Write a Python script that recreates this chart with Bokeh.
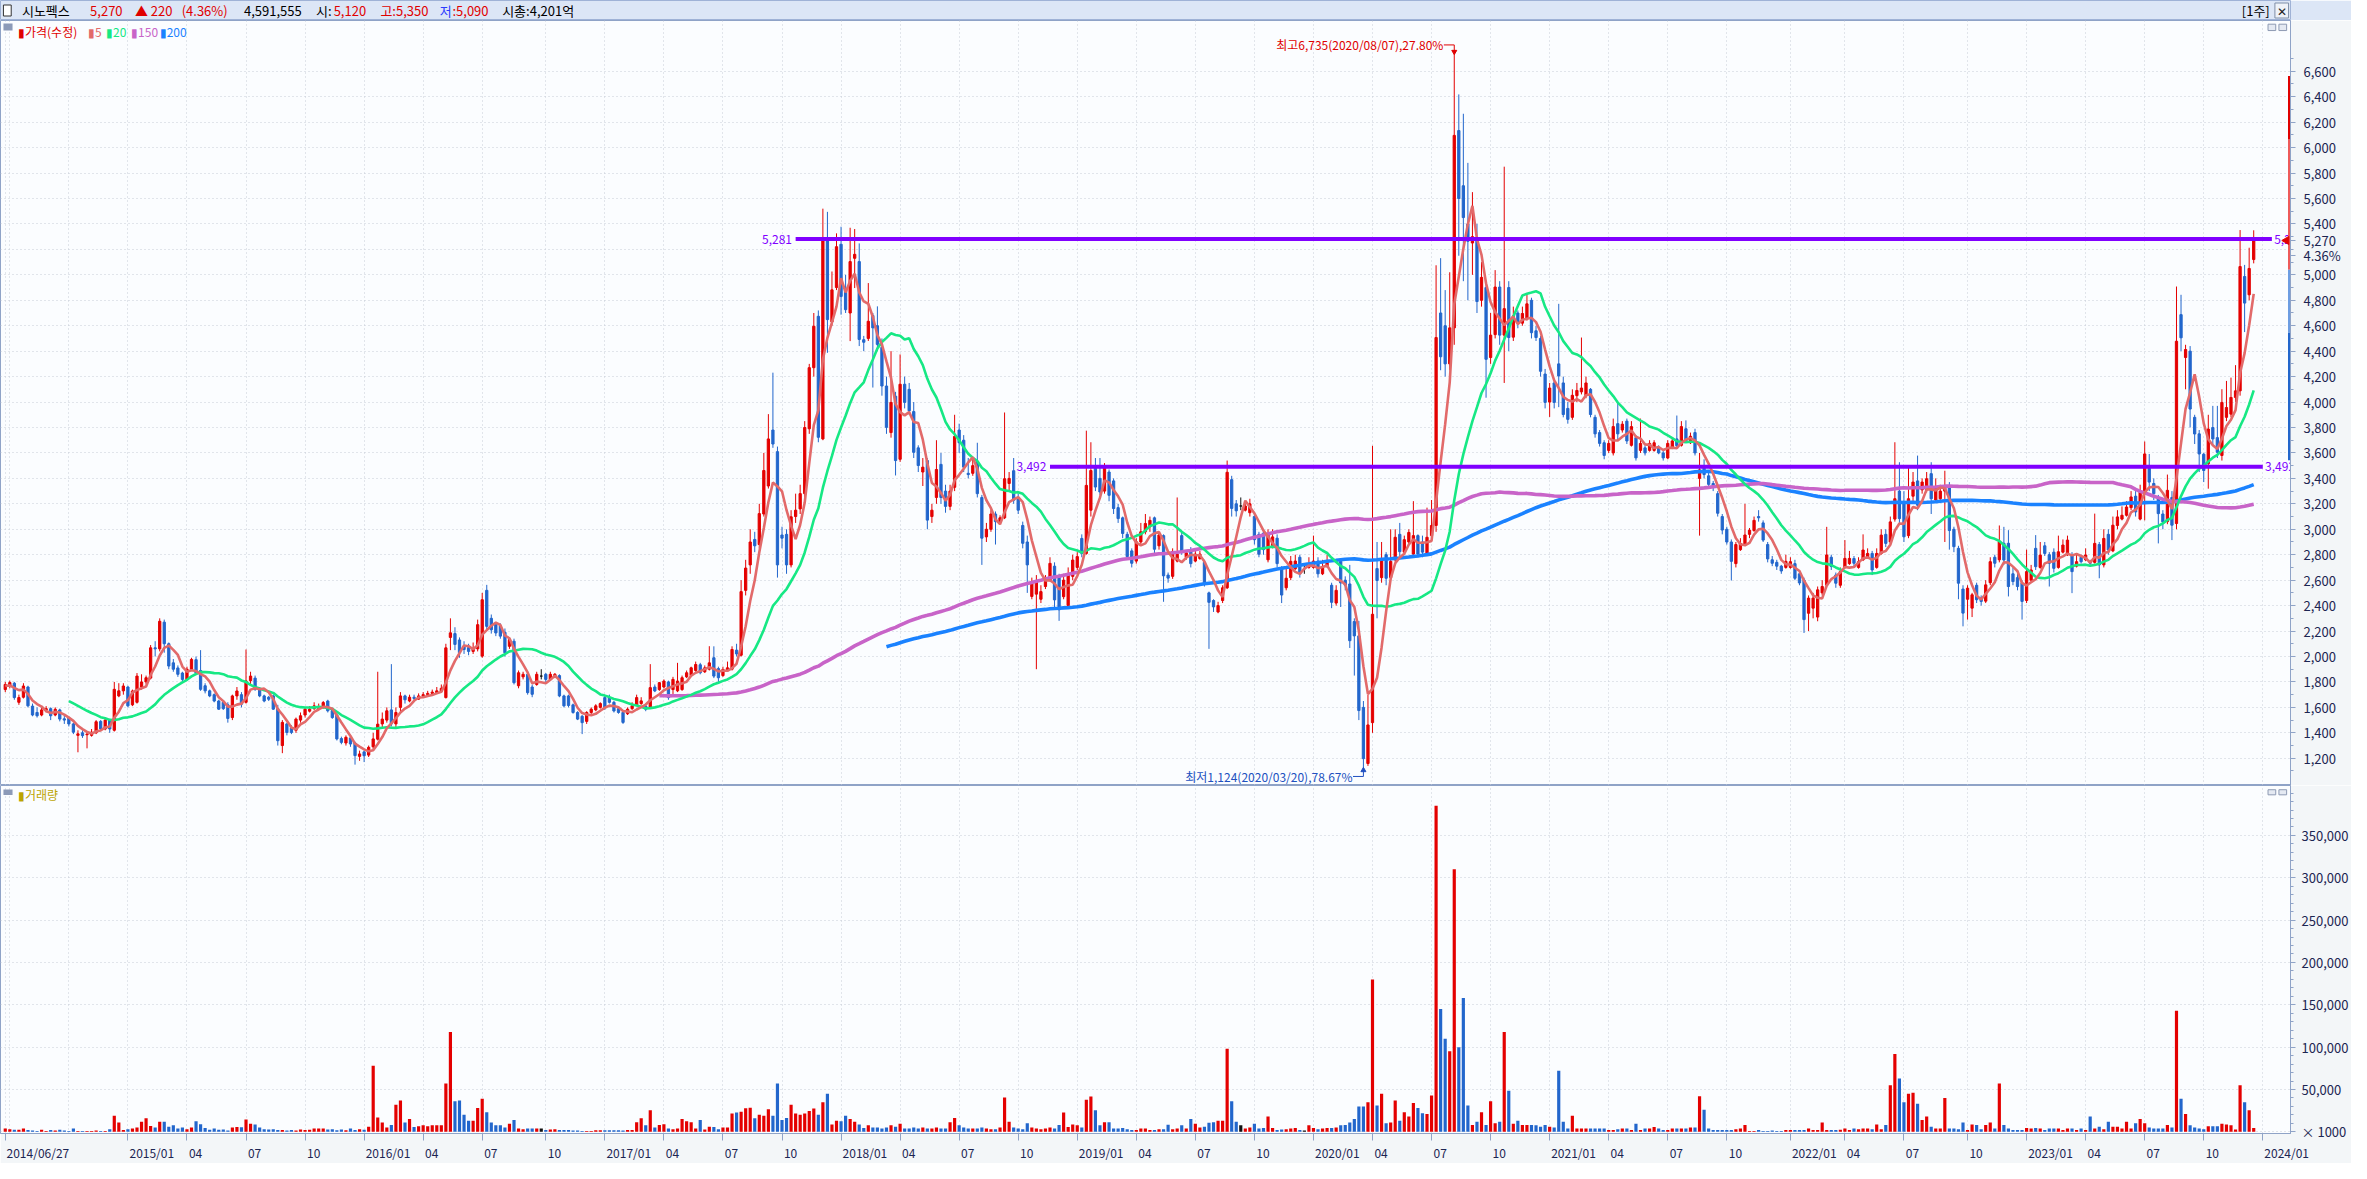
import numpy as np
import pandas as pd
from bokeh.plotting import figure
from bokeh.models import (Range1d, FixedTicker, NumeralTickFormatter, Grid, ColumnDataSource,
                          CustomJSTickFormatter)
from bokeh.layouts import column
from bokeh.embed import file_html
from bokeh.resources import INLINE
from bokeh.core.properties import value

FONT = "Noto Sans CJK KR"
START_DATE = "2014-06-27"          # first weekly candle shown
PRE_CLOSE = [1790, 1770, 1780, 1760, 1750]   # hidden weeks before the first one (moving averages only)

OPEN = [
1740,1770,1790,1640,1680,1760,1610,1560,1540,1580, 1590,1540,1580,1510,1520,1470,1380,1400,1385,1380,
1400,1490,1430,1500,1420,1690,1730,1760,1620,1640, 1760,1800,1830,2068,2060,2270,2100,1950,1910,1870,
1820,1900,1975,1890,1770,1730,1700,1650,1640,1620, 1520,1690,1700,1640,1810,1830,1740,1690,1680,1690,
1590,1300,1470,1440,1420,1500,1540,1570,1590,1590, 1600,1650,1575,1540,1355,1320,1360,1320,1215,1250,
1225,1290,1350,1470,1500,1580,1470,1600,1690,1650, 1680,1665,1690,1700,1710,1715,1725,1677,2150,2180,
2130,2080,2070,2040,2060,2003,2520,2300,2250,2240, 2190,2080,2120,1770,1840,1860,1760,1780,1846,1860,
1820,1840,1850,1690,1690,1620,1560,1530,1490,1560, 1580,1600,1677,1677,1640,1590,1560,1550,1590,1615,
1630,1610,1600,1760,1740,1760,1800,1740,1730,1740, 1840,1850,1890,1935,1880,1900,1990,1905,1850,1890,
1900,2050,2010,2520,2720,2920,2880,3120,3340,3780, 3610,2955,2960,2720,3100,3160,3280,3790,4270,4674,
3710,5286,4630,4900,5240,4890,4700,5130,5104,4490, 4500,4680,4600,4430,4126,3760,4046,3550,4140,4100,
3925,3640,3450,3540,3100,3250,3510,3300,3180,3330, 3780,3700,3440,3440,3530,3250,2940,3000,3120,3060,
3090,3360,3460,3250,3030,2900,2472,2490,2450,2550, 2600,2710,2630,2470,2400,2630,2700,2928,2810,3150,
3480,3400,3300,3450,3380,3170,3090,2960,2830,2750, 2900,2980,3020,3090,2870,2950,2640,2630,2750,2950,
2780,2840,2750,2770,2740,2500,2440,2350,2440,2540, 3390,3200,3183,3150,3130,3100,2960,2970,2760,2870,
2930,2700,2540,2620,2690,2780,2690,2700,2700,2750, 2650,2710,2560,2420,2748,2600,2570,2275,2162,1600,
1159,1480,2691,2620,2800,2620,2760,2960,2820,2900, 2805,2950,2900,2810,2950,3030,4700,4600,4300,4583,
6134,5700,5400,5250,5280,4800,4900,4350,4530,4904, 4526,4900,4510,4700,4620,4660,4800,4560,4500,4220,
4000,4150,4300,4150,3950,3880,4050,4080,4050,4100, 3880,3760,3680,3620,3600,3830,3780,3850,3660,3720,
3620,3640,3620,3620,3640,3600,3560,3640,3710,3660, 3790,3680,3760,3400,3500,3420,3360,3280,3100,3000,
2900,2730,2840,2880,2960,2990,3100,3050,2880,2760, 2740,2710,2700,2700,2730,2650,2600,2340,2380,2310,
2500,2560,2780,2640,2560,2700,2730,2770,2700,2760, 2780,2810,2700,2810,2960,2900,3080,3300,3200,2950,
3260,3380,3310,3310,3437,3230,3240,3300,3340,3000, 2850,2530,2450,2380,2560,2460,2435,2580,2780,2760,
2890,2890,2650,2620,2580,2440,2600,2850,2700,2870, 2800,2820,2700,2820,2800,2800,2710,2780,2760,2745,
2740,2880,2720,2960,2830,3030,3080,3110,3170,3260, 3080,3293,3480,3360,3250,3120,3060,3250,3045,4687,
4350,4400,3880,3750,3590,3515,3800,3720,3580,3880, 3905,4036,4088,4987,4843,5120]

HIGH = [
1800,1810,1800,1700,1790,1770,1630,1600,1600,1610, 1600,1600,1590,1540,1530,1480,1420,1420,1400,1430,
1500,1500,1510,1510,1800,1790,1790,1770,1740,1870, 1860,1850,2090,2120,2300,2290,2110,1980,1930,1880,
1920,1990,2000,2050,1790,1740,1710,1660,1650,1640, 1700,1760,1720,2055,1880,1850,1760,1700,1690,1700,
1620,1500,1480,1460,1520,1560,1600,1610,1640,1630, 1650,1660,1580,1550,1370,1380,1370,1330,1260,1260,
1300,1400,1880,1560,1600,1940,1600,1720,1700,1700, 1700,1710,1720,1730,1740,1760,1780,2100,2300,2230,
2150,2120,2100,2110,2290,2500,2563,2330,2270,2260, 2220,2150,2140,1890,1880,1880,1780,1880,1900,1870,
1880,1870,1860,1700,1700,1630,1570,1540,1570,1600, 1625,1640,1690,1700,1650,1600,1570,1600,1640,1700,
1680,1620,1940,1780,1800,1820,1810,1840,1950,1850, 1890,1920,1960,1950,1930,2081,2080,1920,1920,1960,
2080,2100,2600,2760,3000,2980,3200,3600,3905,4231, 3650,3020,3000,3150,3280,3350,3850,4300,4700,4720,
5520,5495,5026,5326,5378,5000,5370,5360,5247,4520, 4935,4700,4752,4500,4200,4400,4080,4374,4200,4150,
4000,3660,3560,3560,3200,3700,3600,3350,3350,3900, 3830,3740,3560,3560,3680,3270,3050,3150,3140,3110,
3918,3450,3560,3280,3060,2950,2620,2640,2560,2640, 2780,2740,2650,2650,2700,2800,2820,2960,3775,3684,
3560,3560,3520,3470,3400,3200,3100,2980,2850,2930, 3050,3120,3100,3100,2980,2960,2660,2850,3250,2980,
2830,2860,2830,2830,2760,2510,2450,2430,2560,3540, 3420,3230,3250,3220,3240,3120,2980,2990,3000,3000,
2960,2710,2700,2790,2800,2800,2720,2780,2950,2780, 2760,2800,2580,2560,2760,2630,2720,2300,2280,1650,
1700,3656,2900,2900,2820,3000,3000,3050,2950,3000, 3221,2960,2950,3170,3230,5075,5131,4880,5020,6735,
6418,6266,5880,5650,5400,5100,4940,4700,5037,4950, 5850,4950,4750,4720,4750,4850,4820,4600,4520,4260,
4150,4170,4772,4200,4000,4100,4150,4507,4200,4110, 3900,3780,3700,3700,3870,3997,3850,3870,3850,3740,
3870,3660,3700,3700,3660,3620,3700,3720,3894,3850, 3856,3760,3790,3600,3550,3450,3380,3300,3120,3020,
2920,2900,2930,3200,3010,3100,3150,3070,2900,2790, 2760,2720,2800,2780,2760,2670,2620,2480,2500,2550,
2600,3019,2800,2660,2700,2915,2830,2790,2780,2960, 2850,2830,2850,3000,3000,3100,3684,3527,3300,3500,
3450,3579,3400,3450,3527,3400,3350,3460,3371,3020, 2870,2560,2560,2500,2580,2480,2600,2780,2800,3030,
3019,2993,2700,2660,2600,2840,2720,2954,2900,2900, 2820,2850,2950,2920,2950,2820,2800,2800,2850,2760,
3123,2900,3000,3000,3100,3150,3180,3220,3300,3300, 3350,3690,3592,3400,3270,3150,3430,3300,4908,4843,
4450,4440,3900,3780,3600,3900,3970,3970,4101,4166, 4192,4290,5352,5078,5213,5350]

LOW = [
1720,1750,1660,1620,1670,1600,1530,1520,1530,1560, 1500,1530,1490,1470,1450,1390,1247,1360,1278,1370,
1390,1420,1420,1400,1410,1680,1700,1600,1610,1630, 1740,1780,1820,2000,2040,2030,1900,1880,1840,1800,
1810,1890,1860,1730,1710,1680,1640,1580,1580,1480, 1500,1660,1600,1630,1780,1730,1680,1640,1650,1580,
1300,1240,1380,1390,1400,1480,1520,1560,1580,1580, 1590,1560,1510,1340,1310,1300,1290,1150,1180,1170,
1210,1270,1340,1440,1480,1450,1440,1550,1630,1640, 1650,1660,1680,1690,1700,1710,1720,1670,2050,2050,
1990,2020,2010,2020,2040,1990,2200,2180,2160,2140, 2000,2060,1780,1750,1820,1700,1680,1770,1820,1800,
1810,1830,1680,1600,1600,1550,1500,1390,1470,1540, 1570,1590,1580,1630,1560,1550,1470,1540,1580,1610,
1620,1570,1590,1720,1730,1750,1660,1700,1720,1730, 1830,1840,1880,1860,1870,1890,1830,1800,1840,1880,
1890,2000,2000,2480,2650,2820,2850,3100,3320,3640, 2620,2850,2650,2700,3050,3120,3250,3750,4200,3684,
3700,4387,4600,4880,4687,4700,4479,4896,4440,4400, 4480,4114,4400,4050,3750,3720,3423,3530,3950,3900,
3560,3450,3340,3000,3050,3200,3200,3130,3150,3300, 3600,3450,3400,3420,3250,2720,2900,2980,2880,3040,
3080,3300,3200,3120,2850,2500,2450,1900,2420,2530, 2590,2380,2280,2450,2380,2600,2680,2780,2800,3100,
3300,3270,3280,3220,3120,3050,2930,2760,2700,2730, 2880,2960,2980,2800,2840,2430,2580,2610,2740,2800,
2760,2700,2740,2760,2550,2060,2350,2340,2420,2530, 3100,3100,3150,3140,3100,2880,2780,2800,2740,2850,
2700,2420,2520,2600,2680,2620,2650,2690,2690,2620, 2640,2700,2380,2400,2389,2520,2067,1850,1500,1124,
1140,1400,2300,2580,2560,2600,2740,2790,2800,2880, 2780,2780,2780,2800,2930,2980,4250,4200,4250,4450,
5150,4950,4800,5000,4700,4750,4034,4300,4500,4450, 4150,4400,4480,4580,4600,4640,4500,4480,4200,3950,
3883,3950,3960,3880,3830,3860,4000,4060,4030,3880, 3720,3650,3550,3600,3580,3700,3760,3670,3650,3540,
3600,3580,3610,3610,3590,3540,3550,3630,3640,3650, 3680,3670,3580,2950,3400,3330,3300,3100,2960,2880,
2597,2700,2830,2870,2930,2980,3060,2900,2740,2710, 2680,2650,2690,2690,2600,2560,2185,2200,2300,2277,
2480,2550,2680,2540,2540,2690,2720,2700,2690,2750, 2770,2640,2690,2800,2860,2880,3060,3050,2900,2930,
3200,3150,3280,3290,3120,3220,3230,2900,2840,2820, 2450,2237,2290,2310,2420,2400,2420,2560,2700,2740,
2720,2472,2560,2520,2290,2420,2580,2680,2690,2790, 2550,2660,2690,2810,2790,2498,2700,2730,2750,2710,
2730,2615,2700,2800,2820,3000,3070,3100,3150,3100, 3070,3070,3300,3230,2889,3000,3040,2915,3000,4400,
4100,3800,3670,3450,3371,3319,3660,3560,3540,3850, 3880,4000,4050,4550,4800,5090]

CLOSE = [
1780,1795,1677,1677,1768,1612,1540,1534,1580,1590, 1534,1585,1508,1500,1470,1405,1392,1378,1390,1405,
1487,1430,1500,1430,1742,1730,1768,1612,1729,1846, 1800,1833,2068,2060,2277,2100,1925,1900,1860,1820,
1900,1977,1870,1742,1730,1690,1650,1586,1590,1513, 1690,1729,1625,1808,1846,1742,1690,1650,1664,1586,
1338,1482,1403,1403,1508,1534,1586,1586,1612,1600, 1638,1573,1520,1352,1325,1365,1312,1221,1234,1220,
1286,1352,1468,1508,1573,1470,1560,1690,1660,1680, 1670,1690,1700,1710,1720,1730,1750,2068,2186,2095,
2030,2055,2040,2065,2250,2446,2237,2210,2185,2160, 2029,2133,1794,1872,1860,1716,1703,1860,1846,1820,
1860,1860,1690,1612,1615,1560,1508,1480,1560,1586, 1612,1630,1600,1640,1572,1560,1482,1586,1612,1677,
1651,1586,1755,1729,1794,1807,1677,1820,1807,1833, 1872,1911,1937,1872,1911,1950,1846,1833,1898,1911,
2055,2020,2510,2695,2900,2870,3123,3462,3710,3670, 2720,2930,2720,3098,3150,3280,3800,4270,4596,3723,
5286,4648,4882,5221,4830,4726,5104,5161,4492,4470, 4635,4583,4453,4126,3801,3997,3540,4140,3997,3931,
3605,3501,3488,3072,3150,3470,3250,3180,3300,3730, 3680,3488,3430,3500,3280,2930,3000,3120,3060,3090,
3397,3400,3228,3150,2890,2720,2576,2590,2510,2590, 2732,2445,2367,2600,2650,2758,2785,2810,3345,3462,
3332,3293,3488,3267,3163,3084,2967,2785,2733,2902, 2980,3045,3070,2843,2955,2634,2616,2824,2805,2824,
2815,2730,2805,2805,2578,2426,2390,2400,2540,3448, 3164,3145,3183,3183,3200,2918,2804,2840,2955,2940,
2730,2483,2615,2748,2750,2650,2690,2730,2750,2650, 2700,2750,2426,2520,2578,2560,2124,2162,1575,1197,
1462,2332,2597,2767,2615,2748,2937,2824,2918,2975, 2950,2805,2820,2937,3030,4507,4356,4300,4583,6096,
5600,5450,5264,5300,4790,4980,4336,4526,4904,4526, 4734,4507,4677,4620,4696,4772,4545,4507,4242,3997,
4110,3997,4205,3902,3864,4053,4091,4110,4150,3902, 3750,3675,3580,3675,3807,3750,3826,3694,3807,3561,
3675,3600,3675,3680,3600,3561,3675,3694,3656,3807, 3694,3731,3600,3467,3430,3353,3334,3126,2994,2900,
2748,2880,2889,2955,2993,3070,3090,2915,2767,2733, 2710,2672,2748,2745,2615,2578,2290,2459,2459,2524,
2550,2798,2707,2576,2667,2771,2771,2733,2745,2837, 2810,2680,2810,2954,2889,3058,3240,3084,2941,3240,
3371,3189,3371,3397,3240,3332,3300,3340,2990,2863, 2576,2341,2537,2485,2446,2433,2563,2745,2733,2902,
2758,2550,2589,2550,2433,2667,2680,2706,2797,2810, 2733,2693,2823,2876,2915,2667,2745,2745,2798,2733,
2889,2720,2928,2837,3032,3097,3110,3175,3254,3136, 3293,3592,3371,3280,3123,3058,3306,3032,4478,4505,
4413,3945,3749,3592,3462,3788,3710,3605,3997,3957, 4036,4088,5065,4778,5050,5270]

# weekly volume, millions of shares (the axis reads thousands of shares: "x 1000")
VOLUME_M = [
4,3,2.5,2.5,4,2,1.5,1,2.5,1, 2,1.5,2.5,1.5,1,4,1,1,1,1,
1.5,1,1,3,19,11,2,3,4,5, 12,16,7,5,12,12,6,7.6,4,5,
3,5,12.5,9,4.6,2.5,3.8,2.5,2.7,1.5, 5,5.7,5.3,14.4,9.5,8.7,5,3,2.7,3,
2,2,1.5,2,1.5,2.7,2,2.5,4,3.8, 4,2.7,3,1.9,2.7,1.9,3.8,2,3,2.5,
6,78,17,11,5,8,32,37,11,15, 5.7,6.5,7.6,6.5,7.6,7.6,7.6,57,118,36,
37,20,13,13,28,39,23,11,7.6,7.6, 5,9.5,14,4,3,4,3.8,3.8,3.8,2,
2.7,3,2,2,2,1.5,1.5,1,1,1, 1.9,1.9,1.9,1.9,1.9,1.9,1.5,2,2,11.4,
16,7.6,25.5,5,8,9,3.8,3,3.8,15, 12.5,11.4,3.8,14,2.7,6,5.7,3,5,5,
21.7,22.8,23.6,27.8,28.5,16,20,19,26.6,19, 57,14,16.3,32,21.6,20,21.6,24.7,27.4,20,
35,44.8,8.7,13,12.5,19,15,12,8.7,4.6, 7.6,5,5,4,5,7.6,6,9.5,4,4,
5,4,5,4,4,5,4,4,11.4,16.3, 7.6,5,4,4,4,5,3.8,3,3,5,
40.6,12,5,3.8,3,10,5,4,3,4, 5,4,8,22.8,5.7,8.7,7.6,5,38,41.8,
25.5,7.6,11.4,11.4,3.8,4,4.6,3,2,2, 4,3.8,2,2,3,3,8.4,3,4,7.6,
3.8,15,9.5,5,6,10.6,11.4,13,13,98, 36,12,7.6,4,5,9.5,3.8,4.5,18,4.5,
2,2.7,3,4,4.5,2,1.5,7.6,4.5,3, 4,4.5,4.5,5,7.6,8,11,15,30,30,
35,180,31,45,10,11,37,13,23,18, 34,28,22,21,43,385,145,110,95,310,
100,158,31,8,12,23,8,36,10,12, 118,48.5,9.5,13,8,8,8,7.6,6,8,
6,5,72,12,4,19,4,4,4,4, 4,4,4,2,2,3,4,3.8,2,9.5,
2,4,4,5.7,4,2,2,4,4,4, 4,5,5,42,26,4,2,2,2,2,
2,3,4,8,1,1,2,1,1,1.5, 1,1,2,2,2,2,2,4,2,2,
11,2,2,2,2.5,4,2,4,3,4, 4,3,8.7,3,8,55,92,63,35,45,
46,33,14,18,6,4,4,40,4,4, 3,11,2,8.7,8,3,8,11,4,57,
8,4,2,2,2,4.5,4,4.5,4,2, 4,4,4,2,4,4,2,4,2,18,
4,6,3,12,6,6,4,12,4,10, 15,10,5,4,4,4,8,5,143,39,
21,7.6,5,3.8,3,6.5,6.5,6.5,9.5,8.7, 7.6,2.7,55,35,25.4,4.6]

MA_WINDOWS = [5, 20, 150, 200]
MA_COLORS = ["#e26a6a", "#16e884", "#c864c8", "#1a82ff"]
MA_WIDTHS = [2.6, 2.6, 3.6, 3.6]

LEVELS = [5281, 3492]
LEVEL_FROM = ["2017-10-27", "2018-11-23"]
LEVEL_TO = ["2024-01-19", "2024-01-05"]

HIGH_NOTE = "최고6,735(2020/08/07),27.80%"
HIGH_DATE = "2020-08-07"
LOW_NOTE = "최저1,124(2020/03/20),78.67%"
LOW_DATE = "2020-03-20"

LAST_PRICE = 5270
LAST_PCT = "4.36%"
LAST_PCT_AT = 5150          # where the change text sits on the price scale

STRIP_TOP = [6563, 6068, 5039, 4544]
STRIP_BOTTOM = [6068, 5039, 4544, 3543]
STRIP_COLOR = ["#e00000", "#ee5a5a", "#6d9de2", "#2266cc"]

PRICE_TICKS = list(range(1200, 6601, 200))
PRICE_MINOR = list(range(1100, 6701, 100))
VOL_TICKS = list(range(0, 350001, 50000))
VOL_MINOR = list(range(0, 400001, 10000))

# ---------------------------------------------------------------- derived
N = min(len(OPEN), len(HIGH), len(LOW), len(CLOSE), len(VOLUME_M))
o = np.array(OPEN[:N], float)
c = np.array(CLOSE[:N], float)
h = np.maximum(np.array(HIGH[:N], float), np.maximum(o, c))
l = np.minimum(np.array(LOW[:N], float), np.minimum(o, c))
v = np.array(VOLUME_M[:N], float) * 1000.0
x = np.arange(N)

UP, DOWN, FLAT = "#e40000", "#2266cc", "#111111"
col = np.where(c > o, UP, np.where(c < o, DOWN, FLAT))

start = pd.Timestamp(START_DATE)
dates = pd.date_range(start, periods=N + 12, freq="7D")


def week(d):
    return (pd.Timestamp(d) - start).days / 7.0


quarter_ticks, quarter_labels = [], {}
for k in range(1, len(dates)):
    if dates[k].month != dates[k - 1].month and dates[k].month in (1, 4, 7, 10):
        quarter_ticks.append(k)
        quarter_labels[k] = f"{dates[k].year}/01" if dates[k].month == 1 else f"{dates[k].month:02d}"
grid_ticks = [0] + quarter_ticks
axis_ticks = [0] + [t for t in quarter_ticks if t > 20]
axis_text = [dates[0].strftime("%Y/%m/%d")] + [quarter_labels[t] for t in axis_ticks[1:]]

closes_all = pd.Series(PRE_CLOSE + list(c))
mas = [closes_all.rolling(w).mean().to_numpy()[len(PRE_CLOSE):] for w in MA_WINDOWS]

W = 2351
RB = 56
xr = Range1d(-1.05, 503.1)
PX_PER_WEEK = (W - RB) / (xr.end - xr.start)
AX_COL = "#8fa3c7"
TXT_COL = "#1c2552"
GRID_COL = "#c6ccd6"

src = ColumnDataSource(dict(x=x, top=np.maximum(o, c), bottom=np.minimum(o, c),
                            hi=h, lo=l, color=col, vol=v))

# ---------------------------------------------------------------- header
head = figure(width=W, height=20, x_range=Range1d(0, W), y_range=Range1d(0, 20),
              toolbar_location=None, output_backend="svg", x_axis_location=None,
              y_axis_location=None, min_border=0, background_fill_color="#dce6f6",
              border_fill_color="#dce6f6", outline_line_color="#9fb2d6")
head.xgrid.visible = False
head.ygrid.visible = False
head.rect(x=[7], y=[10], width=[8], height=[11], fill_color="white", line_color="#333333")
HEAD_ITEMS = [(22, "시노펙스", "#000000"), (92, "5,270", "#e00000"), (138, "▲ 220", "#e00000"),
              (186, "(4.36%)", "#e00000"), (250, "4,591,555", "#000000"), (324, "시:", "#000000"),
              (342, "5,120", "#e00000"), (390, "고:5,350", "#e00000"), (451, "저", "#2b3cff"),
              (464, ":5,090", "#e00000"), (515, "시총:4,201억", "#000000"), (W - 50, "[1주]", "#000000")]
head.text(x=[a for a, _, _ in HEAD_ITEMS], y=[10] * len(HEAD_ITEMS), text=[b for _, b, _ in HEAD_ITEMS],
          text_color=[cc for _, _, cc in HEAD_ITEMS], text_font=value(FONT), text_font_size="13px",
          text_baseline="middle", text_align="left")
head.rect(x=[W - 9], y=[10], width=[14], height=[15], fill_color="#eef2f8", line_color="#7f8fa8")
head.text(x=[W - 9], y=[10], text=["✕"], text_font=value(FONT), text_font_size="12px",
          text_align="center", text_baseline="middle", text_color="#222222")

# ---------------------------------------------------------------- price panel
price = figure(width=W, height=765, x_range=xr, y_range=Range1d(986, 6999),
               x_axis_location=None, y_axis_location="right", toolbar_location=None,
               output_backend="svg", min_border_left=0, min_border_top=0, min_border_bottom=0,
               min_border_right=RB, background_fill_color="#fbfdff", border_fill_color="#f3f6f8",
               outline_line_color=AX_COL)
price.xgrid.visible = False
price.ygrid.ticker = FixedTicker(ticks=PRICE_TICKS)
price.ygrid.grid_line_color = GRID_COL
price.ygrid.grid_line_dash = "1 3"
price.add_layout(Grid(dimension=0, ticker=FixedTicker(ticks=grid_ticks), grid_line_color=GRID_COL,
                      grid_line_dash="1 3"))
ya = price.yaxis[0]
# the last price and its change replace the 5,200 label, as on the reference scale
scale_ticks = sorted([t for t in PRICE_TICKS if abs(t - LAST_PRICE) > 100] + [LAST_PRICE, LAST_PCT_AT])
ya.ticker = FixedTicker(ticks=scale_ticks, minor_ticks=PRICE_MINOR)
ya.formatter = NumeralTickFormatter(format="0,0")
ya.major_label_overrides = {LAST_PCT_AT: LAST_PCT}
ya.major_label_text_font = FONT
ya.major_label_text_font_size = "13px"
ya.major_label_text_color = TXT_COL
ya.axis_line_color = AX_COL
ya.major_tick_line_color = AX_COL
ya.minor_tick_line_color = AX_COL
ya.major_tick_out = 5
ya.major_tick_in = 0
ya.minor_tick_out = 3
ya.minor_tick_in = 0
ya.major_label_standoff = 8

price.segment(x0="x", y0="lo", x1="x", y1="hi", line_color="color", line_width=1, source=src)
price.vbar(x="x", width=0.5, top="top", bottom="bottom", fill_color="color", line_color="color",
           line_width=1, source=src)
for ma, cc, lw in zip(mas[::-1], MA_COLORS[::-1], MA_WIDTHS[::-1]):
    price.line(x, ma, line_color=cc, line_width=lw)

lv_from = [week(d) for d in LEVEL_FROM]
lv_to = [week(d) for d in LEVEL_TO]
price.segment(x0=lv_from, y0=LEVELS, x1=lv_to, y1=LEVELS, line_color="#8000ff", line_width=4)
lv_text = [f"{lv:,}" for lv in LEVELS]
price.text(x=[a - 0.8 for a in lv_from], y=LEVELS, text=lv_text, text_color="#8000ff",
           text_font=value(FONT), text_font_size="12px", text_align="right", text_baseline="middle")
price.text(x=[b + 0.5 for b in lv_to], y=LEVELS, text=lv_text, text_color="#8000ff",
           text_font=value(FONT), text_font_size="12px", text_align="left", text_baseline="middle")

# highest / lowest notes
hi_i = int(round(week(HIGH_DATE)))
lo_i = int(round(week(LOW_DATE)))
hy = h[hi_i] + 72
ly = l[lo_i] - 67
price.text(x=[hi_i - 2.4], y=[hy], text=[HIGH_NOTE], text_color="#e00000", text_font=value(FONT),
           text_font_size="12px", text_align="right", text_baseline="middle")
price.line([hi_i - 2.3, hi_i, hi_i], [hy, hy, h[hi_i] + 22], line_color="#e00000", line_width=1)
price.scatter([hi_i], [h[hi_i] + 18], marker="inverted_triangle", size=5, color="#e00000")
price.text(x=[lo_i - 2.4], y=[ly], text=[LOW_NOTE], text_color="#2050c0", text_font=value(FONT),
           text_font_size="12px", text_align="right", text_baseline="middle")
price.line([lo_i - 2.3, lo_i, lo_i], [ly, ly, l[lo_i] - 22], line_color="#2050c0", line_width=1)
price.scatter([lo_i], [l[lo_i] - 18], marker="triangle", size=5, color="#2050c0")

# legend row
price.rect(x=[0.6], y=[6948], width=[2.0], height=[55], fill_color="#8c9ab8", line_color=None)
LEG = [(2.8, "▮가격(수정)", "#e00000"), (18.2, "▮5", MA_COLORS[0]), (22.2, "▮20", MA_COLORS[1]),
       (27.7, "▮150", MA_COLORS[2]), (34.0, "▮200", MA_COLORS[3])]
price.text(x=[a for a, _, _ in LEG], y=[6910] * len(LEG), text=[b for _, b, _ in LEG],
           text_color=[cc for _, _, cc in LEG], text_font=value(FONT), text_font_size="12px",
           text_align="left", text_baseline="middle")
# panel icons (top right)
price.rect(x=[499.0, 501.4], y=[6945, 6945], width=[1.7, 1.7], height=[50, 50],
           fill_color="#e4e9f2", line_color="#8d9ab3")

# colored strip on the price scale and the last-price pointer
price.quad(left=[xr.end - 0.55] * 4, right=[xr.end] * 4, top=STRIP_TOP, bottom=STRIP_BOTTOM,
           fill_color=STRIP_COLOR, line_color=None)
price.scatter([xr.end - 0.9], [LAST_PRICE], marker="triangle", angle=np.pi / 2, size=8,
              color="#e00000")

# ---------------------------------------------------------------- volume panel
vol = figure(width=W, height=378, x_range=xr, y_range=Range1d(-2000, 409000),
             x_axis_location="below", y_axis_location="right", toolbar_location=None,
             output_backend="svg", min_border_left=0, min_border_top=0, min_border_bottom=20,
             min_border_right=RB, background_fill_color="#fbfdff", border_fill_color="#f3f6f8",
             outline_line_color=AX_COL)
vol.ygrid.grid_line_color = GRID_COL
vol.ygrid.grid_line_dash = "1 3"
vol.xgrid.visible = False
vol.add_layout(Grid(dimension=0, ticker=FixedTicker(ticks=grid_ticks), grid_line_color=GRID_COL,
                    grid_line_dash="1 3"))
vy = vol.yaxis[0]
vy.ticker = FixedTicker(ticks=VOL_TICKS, minor_ticks=VOL_MINOR)
vy.formatter = NumeralTickFormatter(format="0,0")
vy.major_label_overrides = {0: "× 1000"}
vy.major_label_text_font = FONT
vy.major_label_text_font_size = "13px"
vy.major_label_text_color = TXT_COL
vy.axis_line_color = AX_COL
vy.major_tick_line_color = AX_COL
vy.minor_tick_line_color = AX_COL
vy.major_tick_in = 0
vy.minor_tick_in = 0
vy.major_tick_out = 5
vy.minor_tick_out = 3
vy.major_label_standoff = 6


# date axis: the quarter marks are the (short) minor ticks, the labels sit just to their right
def text_weeks(s):
    return sum(6.6 if ch.isdigit() else 4.3 for ch in s) / PX_PER_WEEK


label_pos = [t + text_weeks(s) / 2 + 2.0 / PX_PER_WEEK for t, s in zip(axis_ticks, axis_text)]
vx = vol.xaxis[0]
vx.ticker = FixedTicker(ticks=label_pos, minor_ticks=axis_ticks)
vx.formatter = CustomJSTickFormatter(args=dict(labels=axis_text), code="return labels[index];")
vx.major_tick_out = 0
vx.major_tick_in = 0
vx.minor_tick_out = 7
vx.minor_tick_in = 0
vx.major_label_standoff = 3
vx.major_label_text_font = FONT
vx.major_label_text_font_size = "12px"
vx.major_label_text_color = TXT_COL
vx.axis_line_color = AX_COL
vx.minor_tick_line_color = AX_COL

vol.vbar(x="x", width=0.7, top="vol", bottom=0, fill_color="color", line_color=None, source=src)
vol.rect(x=[0.6], y=[401000], width=[2.0], height=[6500], fill_color="#8c9ab8", line_color=None)
vol.text(x=[2.8], y=[398000], text=["▮거래량"], text_color="#bba400", text_font=value(FONT),
         text_font_size="12px", text_align="left", text_baseline="middle")
vol.rect(x=[499.0, 501.4], y=[401000, 401000], width=[1.7, 1.7], height=[6000, 6000],
         fill_color="#e4e9f2", line_color="#8d9ab3")

layout = column(head, price, vol)
open("out.html", "w").write(file_html(layout, INLINE, title="시노펙스"))
